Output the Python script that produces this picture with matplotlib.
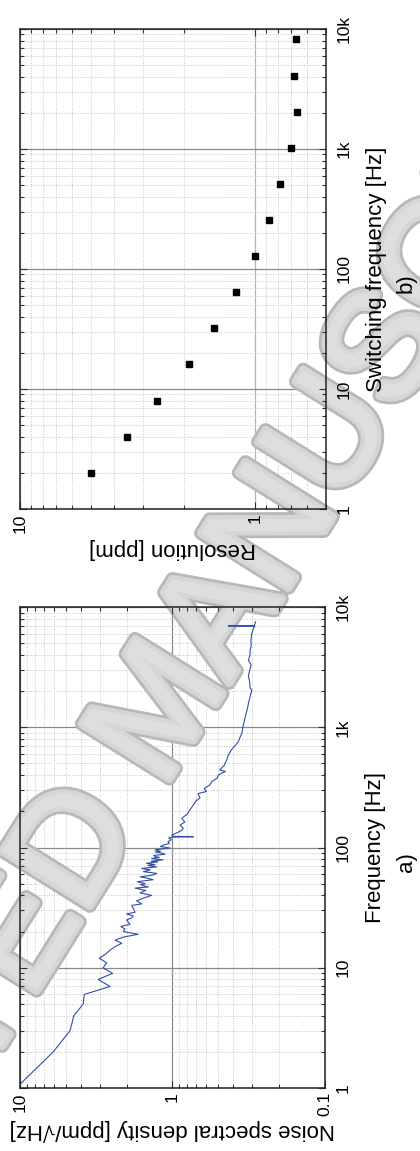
import matplotlib
matplotlib.use('Agg')
import matplotlib.pyplot as plt
import matplotlib.ticker as mticker
import matplotlib.patheffects as pe

plt.rcParams['font.family'] = ['Liberation Sans', 'DejaVu Sans']

# a) noise spectral density vs frequency (figure is rotated 90 deg on the page)
freq_a = [1, 2, 3, 4, 5, 6, 7, 8, 9, 10,
          11, 12, 13, 14, 15, 16, 17, 18, 19, 20,
          21, 22, 23, 25, 26, 27, 28, 29, 31, 33,
          34, 36, 38, 40, 42, 44, 46, 47, 49, 50,
          52, 54, 56, 57, 59, 61, 63, 65, 67, 69,
          71, 72, 74, 76, 77, 79, 81, 83, 84, 86,
          88, 90, 92, 93, 96, 98, 99, 102, 105, 108,
          112, 116, 120, 122, 123, 124, 127, 133, 139, 144,
          154, 163, 175, 190, 205, 226, 245, 258, 281, 292,
          310, 331, 355, 377, 402, 429, 442, 480, 537, 590,
          650, 700, 760, 830, 900, 1010, 1100, 1190, 1350, 1500,
          1580, 1800, 2040, 2130, 2400, 2660, 3070, 3300, 3610, 4000,
          4370, 4800, 5300, 6000, 6500, 6960, 6970, 6980, 7300, 7540]
noise_a = [10.6, 6.05, 4.70, 4.43, 3.85, 3.79, 2.57, 3.07, 2.47, 2.85,
           2.70, 3.02, 2.75, 2.57, 2.38, 2.15, 2.38, 2.10, 1.68, 2.10,
           2.05, 2.18, 1.90, 2.00, 1.85, 1.81, 2.00, 1.76, 1.80, 1.85,
           1.59, 1.72, 1.55, 1.37, 1.63, 1.50, 1.76, 1.44, 1.62, 1.51,
           1.70, 1.34, 1.50, 1.63, 1.35, 1.27, 1.55, 1.40, 1.59, 1.27,
           1.45, 1.30, 1.48, 1.25, 1.38, 1.15, 1.37, 1.22, 1.30, 1.33,
           1.12, 1.18, 1.30, 1.20, 1.30, 1.10, 1.04, 1.20, 1.15, 1.05,
           1.07, 1.02, 1.06, 1.00, 0.73, 1.00, 1.01, 0.93, 0.87, 0.85,
           0.89, 0.83, 0.87, 0.80, 0.77, 0.73, 0.70, 0.66, 0.68, 0.60,
           0.62, 0.57, 0.55, 0.51, 0.50, 0.45, 0.49, 0.46, 0.44, 0.43,
           0.41, 0.39, 0.37, 0.36, 0.35, 0.345, 0.34, 0.335, 0.327, 0.32,
           0.318, 0.31, 0.302, 0.31, 0.312, 0.318, 0.31, 0.305, 0.318, 0.31,
           0.31, 0.305, 0.306, 0.302, 0.296, 0.29, 0.431, 0.29, 0.288, 0.285]

# b) resolution vs switching frequency
freq_b = [2, 4, 8, 16, 32, 64, 128, 256, 512, 1024, 2048, 4096, 8192]
res_b = [5.0, 3.5, 2.6, 1.9, 1.5, 1.2, 1.0, 0.87, 0.78, 0.70, 0.66, 0.68, 0.67]

freq_ticks = [1, 10, 100, 1000, 10000]
freq_labels = ['1', '10', '100', '1k', '10k']
noise_ticks = [10, 1, 0.1]
noise_labels = ['10', '1', '0.1']
res_ticks = [10, 1]
res_labels = ['10', '1']

fig = plt.figure(figsize=(4.2, 11.51), dpi=100)
pos_a = [0.0476, 0.0547, 0.7262, 0.4179]
pos_b = [0.0476, 0.5578, 0.7279, 0.4170]


def set_scales(ax, xlim):
    ax.set_xscale('log')
    ax.set_yscale('log')
    ax.set_xlim(*xlim)
    ax.set_ylim(1, 1e4)


def grid_axes(pos, xlim, xmajor_color):
    # bottom layer: only the grid, the watermark goes over it
    ax = fig.add_axes(pos, zorder=0)
    set_scales(ax, xlim)
    ax.tick_params(which='both', length=0, labelbottom=False, labelleft=False)
    ax.grid(which='minor', ls=':', color='#c4c4c4', lw=0.7)
    ax.grid(which='major', axis='y', ls='-', color='#8a8a8a', lw=0.9)
    ax.grid(which='major', axis='x', ls='-', color=xmajor_color, lw=0.9)
    for s in ax.spines.values():
        s.set_visible(False)
    return ax


def main_axes(pos, xlim, xticks, xlabels):
    ax = fig.add_axes(pos, zorder=2, facecolor='none')
    set_scales(ax, xlim)
    ax.set_yticks(freq_ticks)
    ax.set_yticklabels(freq_labels, rotation=90, va='center', fontsize=12.5)
    ax.set_xticks(xticks)
    ax.set_xticklabels(xlabels, rotation=90, fontsize=12.5)
    ax.xaxis.set_minor_formatter(mticker.NullFormatter())
    ax.yaxis.set_minor_formatter(mticker.NullFormatter())
    ax.tick_params(which='both', direction='in', top=True, bottom=True,
                   left=True, right=True, labelleft=False, labelright=True,
                   color='#333333', width=0.8)
    ax.tick_params(which='major', length=5)
    ax.tick_params(which='minor', length=3)
    ax.tick_params(axis='y', pad=8)
    ax.tick_params(axis='x', pad=3)
    for s in ax.spines.values():
        s.set_color('#222222')
        s.set_linewidth(1.1)
    ax.yaxis.set_label_position('right')
    return ax


grid_axes(pos_a, (10, 0.1), '#8a8a8a')
grid_axes(pos_b, (10, 0.5), '#b4b4b4')

# watermark: tube-like grey letters between grid and data
fig.text(165 / 420, 1 - 712 / 1151, 'ACCEPTED MANUSCRIPT', rotation=58,
         fontsize=108, color='#dedede', ha='center',
         va='center', rotation_mode='anchor', zorder=1,
         path_effects=[pe.Stroke(linewidth=10, foreground='#b8b8b8',
                                 joinstyle='round', capstyle='round'),
                       pe.Stroke(linewidth=6, foreground='#d6d6d6',
                                 joinstyle='round', capstyle='round'),
                       pe.Normal()])

ax_a = main_axes(pos_a, (10, 0.1), noise_ticks, noise_labels)
ax_a.plot(noise_a, freq_a, color='#2f4fa8', lw=0.8)
ax_a.set_xlabel('Noise spectral density [ppm/\u221aHz]', rotation=180,
                fontsize=16, labelpad=2)
ax_a.set_ylabel('Frequency [Hz]', rotation=90, fontsize=16, labelpad=10)
ax_a.text(1.266, 0.47, 'a)', transform=ax_a.transAxes, rotation=90,
          fontsize=16, ha='center', va='center')

ax_b = main_axes(pos_b, (10, 0.5), res_ticks, res_labels)
ax_b.plot(res_b, freq_b, 's', color='black', ms=5)
ax_b.set_xlabel('Resolution [ppm]', rotation=180, fontsize=16, labelpad=4)
ax_b.set_ylabel('Switching frequency [Hz]', rotation=90, fontsize=16,
                labelpad=10)
ax_b.text(1.264, 0.47, 'b)', transform=ax_b.transAxes, rotation=90,
          fontsize=16, ha='center', va='center')

fig.savefig('out.png', dpi=100)
